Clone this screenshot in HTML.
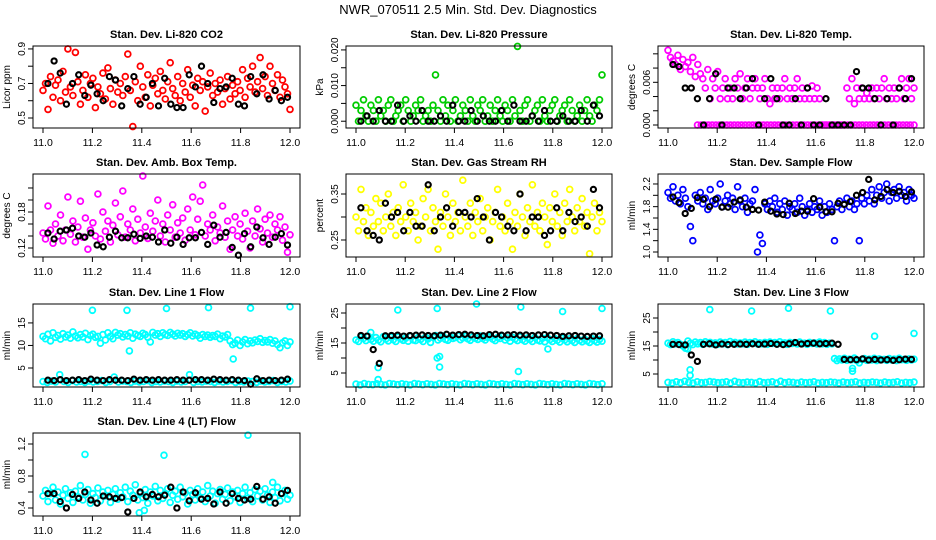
<!DOCTYPE html>
<html><head><meta charset="utf-8"><title>NWR_070511 Diagnostics</title>
<style>
html,body{margin:0;padding:0;background:#fff;}
svg{display:block;font-family:"Liberation Sans",Arial,sans-serif;}
</style></head>
<body>
<svg id="chart" width="936" height="540" viewBox="0 0 936 540" xmlns="http://www.w3.org/2000/svg">
<rect x="0" y="0" width="936" height="540" fill="#fff"/>
<text x="468" y="14" text-anchor="middle" font-size="13">NWR_070511  2.5 Min. Std. Dev. Diagnostics</text>
</svg>
<script>
// ---------- data ----------
const xTicks = [11.0, 11.2, 11.4, 11.6, 11.8, 12.0];
const xTickLabels = ["11.0","11.2","11.4","11.6","11.8","12.0"];

const co2Red = [0.66,0.70,0.55,0.74,0.62,0.69,0.72,0.60,0.77,0.65,0.90,0.68,0.63,0.88,0.71,0.58,0.66,0.75,0.62,0.70,0.73,0.56,0.68,0.64,0.76,0.61,0.79,0.67,0.58,0.72,0.65,0.70,0.63,0.74,0.87,0.66,0.45,0.71,0.60,0.80,0.68,0.62,0.75,0.57,0.69,0.73,0.64,0.77,0.66,0.61,0.71,0.82,0.67,0.63,0.74,0.60,0.70,0.65,0.78,0.62,0.69,0.57,0.73,0.66,0.71,0.54,0.68,0.76,0.63,0.70,0.65,0.72,0.58,0.67,0.74,0.61,0.69,0.64,0.71,0.66,0.78,0.62,0.73,0.68,0.80,0.65,0.71,0.85,0.67,0.74,0.63,0.80,0.70,0.66,0.75,0.62,0.72,0.68,0.64,0.55];
const co2Black = [0.70,0.83,0.76,0.58,0.70,0.75,0.63,0.69,0.64,0.60,0.74,0.72,0.57,0.67,0.74,0.58,0.62,0.70,0.57,0.73,0.58,0.56,0.56,0.75,0.68,0.80,0.70,0.59,0.67,0.68,0.73,0.58,0.57,0.74,0.64,0.75,0.61,0.66,0.60,0.62];

const presGreen = [0.0045,0,0.003,0.006,0.0015,0,0.0045,0.003,0,0.006,0.0015,0.003,0,0.0045,0.006,0,0.0015,0.003,0.0045,0,0.006,0.003,0,0.0015,0.0045,0.003,0.006,0,0.0015,0.003,0,0.0045,0.013,0.003,0,0.006,0.0015,0.0045,0,0.003,0.006,0,0.0015,0.0045,0.003,0,0.006,0.0015,0,0.0045,0.003,0.006,0,0.0015,0.0045,0,0.003,0.006,0.0015,0,0.0045,0.003,0,0.006,0.0015,0.021,0.003,0,0.0045,0.006,0,0.0015,0.003,0.0045,0,0.006,0.0015,0,0.003,0.0045,0.006,0,0.0015,0.003,0.0045,0,0.006,0.003,0,0.0015,0.0045,0,0.003,0.006,0.0015,0,0.0045,0.003,0.006,0.013];
const presBlack = [0,0.0015,0,0.003,0,0,0.0045,0,0.0015,0,0.003,0,0,0.0015,0,0.0045,0,0,0.003,0,0.0015,0,0,0.003,0,0.0045,0,0,0.0015,0,0.003,0,0,0.0015,0,0,0.003,0,0.0045,0.0015];

const tempUpper = [0.0105,0.0095,0.009,0.0085,0.0098,0.0078,0.0092,0.0082,0.0088,0.0075,0.0095,0.0068,0.0085,0.0072,0.0065,0.0052,0.0078,0.0037,0.0065,0.0052,0.0075,0.0037,0.0052,0.0065,0.0037,0.0052,0.0037,0.0065,0.0052,0.0072,0.0037,0.0052,0.0065,0.0037,0.0052,0.0065,0.0052,0.0037,0.0052,0.0065,0.0037,0.003,0.0052,0.0037,0.0052,0.0037,0.0052,0.0065,0.0037,0.0052,0.0037,0.0052,0.0065,0.0037,0.0052,0.0037,0.0052,0.0037,0.0055,0.0037,0.0052,0.0037,0,0,0,0,0,0,0,0,0,0,0.0052,0.0037,0.0065,0.003,0.0052,0.0037,0.0052,0.0037,0.0045,0.0037,0.0052,0.0037,0.0052,0.0037,0.0052,0.0065,0.0037,0.0052,0.0037,0.0052,0.0037,0.0052,0.0065,0.0037,0.0052,0.0065,0.0037,0.0052];
const tempZero = [0,0,0,0,0,0,0,0,0,0,0,0,0,0,0,0,0,0,0,0,0,0,0,0,0,0,0,0,0,0,0,0,0,0,0,0,0,0,0,0,0,0,0,0,0,0,0,0,0,0,0,0,0,0,0,0,0,0,0,0];
const tempBlack = [0.0085,0.0082,0.0052,0.0052,0.0037,0,0.0037,0.0072,0,0.0052,0.0052,0.0037,0.0052,0.0065,0,0.0037,0.0065,0.0037,0,0,0.0037,0,0.0052,0,0,0.0037,0,0,0,0,0.0075,0.0052,0.0052,0.0037,0,0.0037,0,0.0052,0.0037,0.0065];

const ambMagenta = [0.145,0.135,0.190,0.150,0.128,0.160,0.140,0.175,0.132,0.150,0.205,0.143,0.165,0.130,0.155,0.198,0.138,0.170,0.118,0.150,0.162,0.140,0.210,0.135,0.180,0.148,0.165,0.130,0.158,0.195,0.142,0.172,0.215,0.138,0.160,0.150,0.185,0.132,0.168,0.145,0.240,0.155,0.136,0.178,0.148,0.165,0.200,0.140,0.160,0.130,0.175,0.150,0.192,0.138,0.162,0.145,0.170,0.133,0.185,0.150,0.205,0.142,0.168,0.198,0.225,0.140,0.160,0.150,0.175,0.132,0.155,0.145,0.190,0.138,0.165,0.118,0.150,0.172,0.140,0.160,0.135,0.178,0.148,0.120,0.165,0.140,0.185,0.152,0.130,0.168,0.145,0.175,0.138,0.160,0.150,0.172,0.133,0.155,0.113,0.142];
const ambBlack = [0.145,0.135,0.148,0.150,0.153,0.140,0.138,0.145,0.125,0.122,0.138,0.148,0.137,0.137,0.143,0.136,0.140,0.138,0.130,0.150,0.128,0.138,0.126,0.137,0.137,0.146,0.126,0.158,0.138,0.146,0.121,0.108,0.144,0.122,0.155,0.137,0.126,0.138,0.144,0.125];

const rhYellow = [0.30,0.27,0.36,0.29,0.32,0.26,0.31,0.28,0.34,0.29,0.33,0.27,0.30,0.35,0.28,0.31,0.26,0.32,0.29,0.37,0.30,0.27,0.33,0.29,0.31,0.25,0.28,0.34,0.30,0.36,0.27,0.32,0.29,0.23,0.31,0.28,0.35,0.30,0.26,0.33,0.29,0.31,0.27,0.38,0.30,0.28,0.33,0.26,0.31,0.29,0.34,0.27,0.30,0.32,0.25,0.29,0.31,0.36,0.28,0.30,0.27,0.33,0.29,0.23,0.31,0.28,0.35,0.30,0.26,0.32,0.29,0.37,0.28,0.31,0.27,0.33,0.30,0.24,0.32,0.29,0.35,0.28,0.31,0.26,0.33,0.29,0.36,0.30,0.27,0.32,0.29,0.34,0.28,0.31,0.22,0.30,0.33,0.27,0.31,0.29];
const rhBlack = [0.32,0.27,0.26,0.25,0.33,0.30,0.31,0.27,0.31,0.28,0.28,0.37,0.27,0.30,0.32,0.28,0.31,0.31,0.30,0.34,0.30,0.25,0.31,0.30,0.28,0.27,0.35,0.27,0.30,0.30,0.26,0.27,0.32,0.27,0.31,0.29,0.30,0.28,0.36,0.32];

const flowBlue = [2.05,1.95,2.15,1.90,2.00,1.85,2.10,1.95,1.80,1.45,1.20,2.00,1.90,2.05,1.85,1.95,1.75,2.10,1.90,1.85,1.95,2.20,1.80,1.90,2.00,1.85,1.95,1.75,2.15,1.90,1.80,1.95,1.70,1.85,1.90,2.10,1.00,1.30,1.15,1.85,1.75,1.90,1.80,1.95,1.70,1.85,1.75,1.90,1.65,1.80,1.75,1.85,1.70,1.95,1.80,1.65,1.75,1.85,1.70,1.80,1.75,1.90,1.65,1.80,1.70,1.85,1.75,1.20,1.80,1.90,1.75,1.85,1.95,1.80,1.90,1.75,1.85,1.20,1.95,1.85,2.00,1.90,2.10,1.85,2.00,2.15,1.95,2.05,2.20,1.90,2.05,2.10,1.95,2.15,2.00,2.05,1.90,2.10,2.00,1.95];
const flowBlack = [1.97,1.87,1.68,1.77,1.96,1.93,1.80,1.93,1.79,1.79,1.88,1.92,1.79,1.75,1.74,1.88,1.72,1.67,1.66,1.86,1.68,1.72,1.72,1.94,1.79,1.71,1.71,1.86,1.84,1.89,2.00,2.05,2.28,1.92,1.98,2.10,2.05,2.07,1.98,2.06];

const line1Upper = [12.0,11.5,12.5,11.0,12.8,11.8,12.2,11.4,12.6,11.9,12.3,11.6,13.0,12.1,11.7,12.4,11.9,12.7,11.3,12.2,12.5,11.8,12.0,10.5,12.4,11.2,12.8,12.0,11.5,12.9,12.3,12.6,11.9,12.4,12.1,12.8,11.6,12.5,12.2,12.0,12.7,12.4,11.8,10.8,12.9,12.3,12.6,12.0,12.8,12.4,12.2,12.9,12.5,12.1,12.7,12.3,12.6,12.0,12.4,12.8,12.1,12.5,12.2,11.6,12.4,12.0,12.3,11.8,12.2,12.0,12.5,11.5,12.1,11.9,12.4,11.0,10.2,10.5,11.2,10.0,10.8,11.3,10.4,11.0,10.6,11.2,10.9,11.5,10.7,11.1,10.8,11.3,10.5,11.0,10.2,9.5,10.6,11.0,10.0,10.8];
const line1Lower = [2.0,1.8,2.1,1.9,3.5,2.0,1.8,2.2,1.9,2.0,1.8,2.1,1.9,2.0,2.2,1.8,2.0,3.0,1.9,2.1,2.0,1.8,2.1,1.9,2.0,2.2,1.8,2.0,1.9,2.1,2.0,1.8,2.1,1.9,2.0,3.5,1.8,2.0,1.9,2.1,2.0,1.8,2.1,1.9,2.0,2.2,1.8,2.0,1.9,2.1,2.0,1.8,2.1,1.9,2.0,2.2,1.8,2.0,1.9,2.1];
const line1OutX = [11.2,11.34,11.35,11.5,11.67,11.77,11.84,12.0];
const line1OutY = [17.8,17.8,8.8,18.2,18.4,7.0,18.3,18.6];
const line1Black = [2.3,2.2,2.4,2.2,2.3,2.4,2.2,2.5,2.3,2.2,2.4,2.3,2.3,2.2,2.5,2.3,2.4,2.3,2.4,2.3,2.3,2.4,2.3,2.3,2.4,2.4,2.3,2.5,2.4,2.3,2.4,2.3,2.2,1.4,2.6,2.2,2.3,2.2,2.3,2.5];

const line2Upper = [16.0,15.5,17.0,16.5,15.8,17.2,16.2,15.6,16.8,16.0,15.4,17.1,16.3,15.7,16.9,16.1,15.5,17.0,16.4,15.9,16.6,15.6,17.2,16.0,15.8,16.8,16.2,15.5,17.0,16.4,15.2,16.9,17.5,16.0,16.6,17.3,16.2,15.9,17.0,16.5,16.8,17.4,16.1,16.7,17.2,16.4,15.9,17.0,16.6,16.2,17.3,16.5,16.0,16.9,17.1,16.3,15.8,16.8,16.5,17.2,16.0,16.7,15.6,16.9,16.3,15.8,17.0,16.1,15.6,16.7,16.2,15.5,16.9,16.0,15.7,16.6,15.4,16.8,16.1,15.5,16.5,15.9,15.3,16.6,16.0,15.4,16.4,15.8,15.2,16.5,15.9,15.4,16.3,15.7,15.2,16.4,15.8,15.3,16.2,15.6];
const line2Lower = [1.3,1.0,1.5,1.2,1.1,1.4,1.2,1.0,1.5,1.3,1.1,1.4,1.2,1.0,1.5,1.3,1.1,1.4,1.2,1.0,1.5,1.3,1.1,1.4,1.2,1.0,1.5,1.3,1.1,1.4,1.2,1.0,1.5,1.3,1.1,1.4,1.2,1.0,1.5,1.3,1.1,1.4,1.2,1.0,1.5,1.3,1.1,1.4,1.2,1.0,1.5,1.3,1.1,1.4,1.2,1.0,1.5,1.3,1.1,1.4];
const line2OutX = [11.06,11.09,11.09,11.17,11.33,11.33,11.34,11.34,11.49,11.66,11.67,11.78,11.84,12.0];
const line2OutY = [18.5,6.8,2.8,26.0,26.5,10.0,10.5,7.0,28.0,5.5,27.0,13.0,25.5,26.5];
const line2Black = [17.5,17.3,12.8,8.2,17.4,17.5,17.6,17.3,17.5,17.6,17.7,17.5,17.4,17.6,17.9,17.6,17.8,17.9,17.7,17.5,17.4,17.8,17.9,17.6,17.7,17.8,17.6,17.7,17.5,17.7,17.8,17.6,17.5,17.2,17.4,17.5,17.3,17.2,17.3,17.4];

const line3Upper = [16.0,15.5,16.5,15.8,16.2,15.6,15.0,14.2,16.8,16.0,15.5,16.4,15.8,16.2,15.6,16.5,15.9,16.3,15.7,16.1,15.6,16.4,15.8,16.2,15.5,16.6,15.9,16.3,15.7,16.1,15.8,16.4,15.6,16.2,15.9,16.5,15.7,16.1,15.8,16.3,15.6,16.4,15.9,16.2,15.7,16.5,15.8,16.1,15.6,16.3,15.9,16.2,15.7,16.4,15.8,16.0,15.6,16.3,15.9,16.1,15.7,16.4,15.8,16.2,15.6,16.0,15.8,10.5,9.8,10.4,10.0,10.6,9.9,10.3,10.1,10.7,9.8,9.0,10.2,10.5,9.9,10.3,10.0,10.6,9.8,10.4,10.1,10.2,9.9,10.5,10.0,10.3,9.8,10.6,10.1,10.2,9.9,10.4,10.0,10.3];
const line3Lower = [2.0,1.8,2.2,1.9,2.4,2.0,1.8,2.2,1.9,2.0,2.3,2.1,1.9,2.0,2.2,1.8,2.4,2.0,1.9,2.1,2.0,1.8,2.3,1.9,2.0,2.2,1.8,2.4,1.9,2.1,2.0,1.8,2.1,1.9,2.0,2.2,1.8,2.0,1.9,2.1,2.0,1.8,2.1,1.9,2.0,2.2,1.8,2.0,1.9,2.1,2.0,1.8,2.1,1.9,2.0,2.2,1.8,2.0,1.9,2.1];
const line3OutX = [11.08,11.09,11.09,11.17,11.34,11.49,11.66,11.75,11.75,11.84,12.0];
const line3OutY = [14.0,6.5,4.5,28.0,27.5,28.5,27.5,7.0,6.0,18.5,19.5];
const line3Black = [15.6,15.5,15.4,11.8,9.5,15.6,15.8,15.4,15.7,15.5,15.6,15.7,15.6,15.8,15.6,15.7,15.9,15.6,15.5,15.8,16.2,15.7,15.9,16.0,15.8,15.9,16.0,15.6,10.2,10.1,10.1,10.4,10.0,10.2,10.0,10.1,9.9,10.1,10.3,10.2];

const line4Cyan = [0.55,0.62,0.48,0.58,0.66,0.50,0.60,0.45,0.56,0.64,0.52,0.59,0.47,0.61,0.54,0.68,0.50,0.57,0.63,0.46,0.58,0.53,0.65,0.49,0.60,0.55,0.62,0.47,0.57,0.64,0.51,0.59,0.54,0.66,0.48,0.61,0.56,0.69,0.50,0.58,0.53,0.63,0.46,0.60,0.55,0.67,0.49,0.62,0.52,0.58,0.64,0.47,0.56,0.61,0.51,0.66,0.54,0.59,0.45,0.62,0.57,0.50,0.64,0.53,0.60,0.48,0.68,0.55,0.61,0.46,0.58,0.63,0.51,0.57,0.65,0.49,0.60,0.54,0.62,0.47,0.58,0.66,0.52,0.59,0.48,0.63,0.55,0.61,0.50,0.64,0.56,0.47,0.60,0.53,0.66,0.49,0.58,0.62,0.51,0.56];
const line4OutX = [11.17,11.39,11.41,11.49,11.83,11.93];
const line4OutY = [1.07,0.34,0.37,1.06,1.31,0.72];
const line4Black = [0.58,0.58,0.48,0.40,0.57,0.52,0.60,0.50,0.46,0.55,0.54,0.52,0.53,0.35,0.52,0.60,0.54,0.57,0.54,0.56,0.66,0.40,0.60,0.49,0.59,0.51,0.52,0.45,0.60,0.46,0.58,0.52,0.50,0.51,0.67,0.51,0.54,0.46,0.58,0.62];

// ---------- layout ----------
const boxL = [33, 346, 658], boxR = [300, 612, 924];
const boxT = [46, 174, 304, 433], boxB = [128, 257, 387, 516];
const RED = "#ff0000", GRN = "#00cc00", MAG = "#ff00ff", YEL = "#ffff00", BLU = "#0000ff", CYN = "#00ffff";

const panels = [
 {name:"co2", title:"Stan. Dev. Li-820 CO2", ylab:"Licor ppm", c:0, r:0, lo:0.442, hi:0.917,
  ticks:[0.5,0.6,0.7,0.8,0.9], labels:{0.5:"0.5",0.7:"0.7",0.9:"0.9"},
  series:[{v:co2Red,col:RED,x0:11.0,x1:12.0},{v:co2Black,col:"#000",x0:11.02,x1:11.99,b:1}]},
 {name:"pressure", title:"Stan. Dev. Li-820 Pressure", ylab:"kPa", c:1, r:0, lo:-0.0019, hi:0.0211,
  ticks:[0,0.005,0.01,0.015,0.02], labels:{0:"0.000",0.01:"0.010",0.02:"0.020"},
  series:[{v:presGreen,col:GRN,x0:11.0,x1:12.0},{v:presBlack,col:"#000",x0:11.02,x1:11.99,b:1}]},
 {name:"li820-temp", title:"Stan. Dev. Li-820 Temp.", ylab:"degrees C", c:2, r:0, lo:-0.00042, hi:0.0111,
  ticks:[0,0.002,0.004,0.006,0.008,0.010], labels:{0:"0.000",0.006:"0.006"},
  series:[{v:tempUpper,col:MAG,x0:11.0,x1:12.0},{v:tempZero,col:MAG,x0:11.12,x1:12.0},{v:tempBlack,col:"#000",x0:11.02,x1:11.99,b:1}]},
 {name:"amb-box-temp", title:"Stan. Dev. Amb. Box Temp.", ylab:"degrees C", c:0, r:1, lo:0.105, hi:0.2433,
  ticks:[0.12,0.14,0.16,0.18,0.20,0.22], labels:{0.12:"0.12",0.18:"0.18"},
  series:[{v:ambMagenta,col:MAG,x0:11.0,x1:12.0},{v:ambBlack,col:"#000",x0:11.02,x1:11.99,b:1}]},
 {name:"gas-rh", title:"Stan. Dev. Gas Stream RH", ylab:"percent", c:1, r:1, lo:0.213, hi:0.3935,
  ticks:[0.25,0.30,0.35], labels:{0.25:"0.25",0.35:"0.35"},
  series:[{v:rhYellow,col:YEL,x0:11.0,x1:12.0},{v:rhBlack,col:"#000",x0:11.02,x1:11.99,b:1}]},
 {name:"sample-flow", title:"Stan. Dev. Sample Flow", ylab:"ml/min", c:2, r:1, lo:0.912, hi:2.376,
  ticks:[1.0,1.2,1.4,1.6,1.8,2.0,2.2], labels:{1.0:"1.0",1.4:"1.4",1.8:"1.8",2.2:"2.2"},
  series:[{v:flowBlue,col:BLU,x0:11.0,x1:12.0},{v:flowBlack,col:"#000",x0:11.02,x1:11.99,b:1}]},
 {name:"line1-flow", title:"Stan. Dev. Line 1 Flow", ylab:"ml/min", c:0, r:2, lo:0.78, hi:19.2,
  ticks:[5,10,15], labels:{5:"5",10:"10",15:"15"},
  series:[{v:line1Upper,col:CYN,x0:11.0,x1:12.0},{v:line1Lower,col:CYN,x0:11.0,x1:12.0},{xs:line1OutX,v:line1OutY,col:CYN},{v:line1Black,col:"#000",x0:11.02,x1:11.99,b:1}]},
 {name:"line2-flow", title:"Stan. Dev. Line 2 Flow", ylab:"ml/min", c:1, r:2, lo:0.33, hi:28,
  ticks:[5,10,15,20,25], labels:{5:"5",15:"15",25:"25"},
  series:[{v:line2Upper,col:CYN,x0:11.0,x1:12.0},{v:line2Lower,col:CYN,x0:11.0,x1:12.0},{xs:line2OutX,v:line2OutY,col:CYN},{v:line2Black,col:"#000",x0:11.02,x1:11.99,b:1}]},
 {name:"line3-flow", title:"Stan. Dev. Line 3 Flow", ylab:"ml/min", c:2, r:2, lo:0.36, hi:30,
  ticks:[5,10,15,20,25], labels:{5:"5",15:"15",25:"25"},
  series:[{v:line3Upper,col:CYN,x0:11.0,x1:12.0},{v:line3Lower,col:CYN,x0:11.0,x1:12.0},{xs:line3OutX,v:line3OutY,col:CYN},{v:line3Black,col:"#000",x0:11.02,x1:11.99,b:1}]},
 {name:"line4-flow", title:"Stan. Dev. Line 4 (LT) Flow", ylab:"ml/min", c:0, r:3, lo:0.3, hi:1.3375,
  ticks:[0.4,0.6,0.8,1.0,1.2], labels:{0.4:"0.4",0.8:"0.8",1.2:"1.2"},
  series:[{v:line4Cyan,col:CYN,x0:11.0,x1:12.0},{xs:line4OutX,v:line4OutY,col:CYN},{v:line4Black,col:"#000",x0:11.02,x1:11.99,b:1}]}
];

// ---------- render ----------
const svg = document.getElementById('chart');
const NS = "http://www.w3.org/2000/svg";
function mk(tag, attrs, parent){
  const e = document.createElementNS(NS, tag);
  for (const k in attrs) e.setAttribute(k, attrs[k]);
  parent.appendChild(e);
  return e;
}

panels.forEach(p => {
  const L = boxL[p.c], R = boxR[p.c], T = boxT[p.r], B = boxB[p.r];
  const xScale = x => (L + 10) + (x - 11.0) * ((R - 10) - (L + 10));
  const yScale = y => B - (y - p.lo) / (p.hi - p.lo) * (B - T);

  const g = mk('g', {}, svg);
  
  

  const t = mk('text', {x:(L+R)/2, y:T-8, 'text-anchor':'middle', 'font-size':'11', 'font-weight':'bold'}, g);
  t.textContent = p.title;
  
  

  const pts = mk('g', {fill:'none'}, g);
  
  
  p.series.forEach(s => {
    s.v.forEach((val, i) => {
      const xv = s.xs ? s.xs[i] : s.x0 + (s.x1 - s.x0) * (s.v.length > 1 ? i / (s.v.length - 1) : 0);
      const c = mk('circle', {cx:xScale(xv).toFixed(1), cy:yScale(val).toFixed(1), r: s.b ? 2.6 : 2.9,
        stroke:s.col, 'stroke-width': s.b ? 2.1 : 1.8}, pts);
      
      
    });
  });

  const bx = mk('rect', {x:L, y:T, width:R-L, height:B-T, fill:'none', stroke:'#000', 'stroke-width':1}, g);
  
  

  const xa = mk('g', {}, g);
  
  
  xTicks.forEach((tv, i) => {
    const x = xScale(tv);
    mk('line', {x1:x, x2:x, y1:B, y2:B+5, stroke:'#000', 'stroke-width':1}, xa);
    const lb = mk('text', {x:x, y:B+18, 'text-anchor':'middle', 'font-size':'10.5'}, xa);
    lb.textContent = xTickLabels[i];
    
    
  });

  const ya = mk('g', {}, g);
  
  
  p.ticks.forEach(tv => {
    const y = yScale(tv);
    mk('line', {x1:L-5, x2:L, y1:y, y2:y, stroke:'#000', 'stroke-width':1}, ya);
    const key = Object.keys(p.labels).find(k => Math.abs(parseFloat(k) - tv) < 1e-9);
    if (key !== undefined) {
      const lb = mk('text', {x:L-8, y:y, 'text-anchor':'middle', 'font-size':'10',
        transform:'rotate(-90 ' + (L-8) + ' ' + y + ')'}, ya);
      lb.textContent = p.labels[key];
      
      
    }
  });
  const yl = mk('text', {x:L-23, y:(T+B)/2, 'text-anchor':'middle', 'font-size':'10',
    transform:'rotate(-90 ' + (L-23) + ' ' + ((T+B)/2) + ')'}, ya);
  yl.textContent = p.ylab;
  
  
});
</script>
</body></html>
